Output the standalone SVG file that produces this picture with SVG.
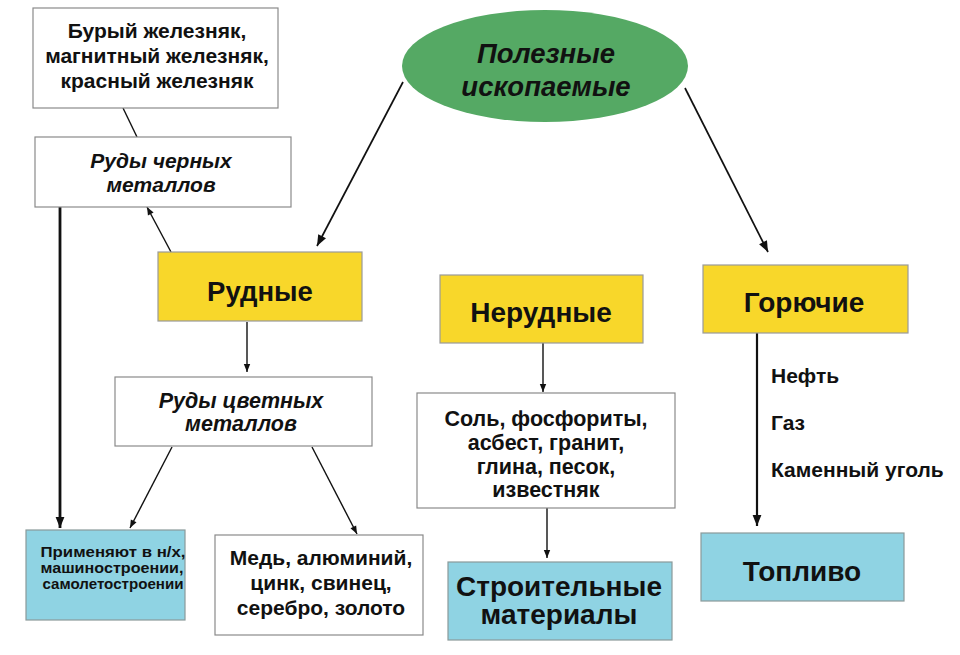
<svg xmlns="http://www.w3.org/2000/svg" width="960" height="655" viewBox="0 0 960 655">
<defs>
<marker id="ah" viewBox="0 0 10 10" refX="10" refY="5" markerWidth="9" markerHeight="8" markerUnits="userSpaceOnUse" orient="auto">
<path d="M0,1 L10,5 L0,9 z" fill="#111"/>
</marker>
<marker id="ahb" viewBox="0 0 10 10" refX="10" refY="5" markerWidth="15" markerHeight="11" markerUnits="userSpaceOnUse" orient="auto">
<path d="M0,1 L10,5 L0,9 z" fill="#111"/>
</marker>
</defs>
<style>
.box{fill:#fff;stroke:#8a8a8a;stroke-width:1.2}
.yel{fill:#f8d72a;stroke:#9a9a9a;stroke-width:1.2}
.blu{fill:#8fd3e3;stroke:#8a9a9a;stroke-width:1.2}
text{font-family:"Liberation Sans",Arial,sans-serif;font-weight:bold;fill:#111;text-anchor:middle}
.it{font-style:italic}
.c{stroke:#111;stroke-width:1.4;fill:none}
</style>
<rect width="960" height="655" fill="#fff"/>
<g id="connectors">
<line class="c" x1="137" y1="137" x2="123" y2="108"/>
<line class="c" x1="171" y1="252" x2="147" y2="207" marker-end="url(#ah)"/>
<line class="c" x1="60" y1="207" x2="60" y2="528" style="stroke-width:2.8" marker-end="url(#ahb)"/>
<line class="c" x1="403" y1="82" x2="317" y2="246" style="stroke-width:1.7" marker-end="url(#ahb)"/>
<line class="c" x1="685" y1="88" x2="768" y2="252" style="stroke-width:1.7" marker-end="url(#ahb)"/>
<line class="c" x1="247" y1="322" x2="247" y2="372" marker-end="url(#ah)"/>
<line class="c" x1="172" y1="447" x2="130" y2="528" marker-end="url(#ah)"/>
<line class="c" x1="312" y1="447" x2="357" y2="534" marker-end="url(#ah)"/>
<line class="c" x1="543" y1="343" x2="543" y2="392" marker-end="url(#ah)"/>
<line class="c" x1="547" y1="508" x2="547" y2="558" marker-end="url(#ah)"/>
<line class="c" x1="757" y1="333" x2="757" y2="526" style="stroke-width:2.2" marker-end="url(#ahb)"/>
</g>
<g id="n-root">
<ellipse cx="545" cy="66" rx="143" ry="56" fill="#55a964"/>
<text class="it" x="546" y="63" font-size="27.5">Полезные</text>
<text class="it" x="546" y="96" font-size="27.5">ископаемые</text>
</g>
<g id="n-buryi">
<rect class="box" x="33" y="8" width="245" height="100"/>
<text x="157" y="38" font-size="21">Бурый железняк,</text>
<text x="157" y="63" font-size="21">магнитный железняк,</text>
<text x="157" y="88" font-size="21">красный железняк</text>
</g>
<g id="n-chernye">
<rect class="box" x="35" y="137" width="256" height="70"/>
<text class="it" x="161" y="168" font-size="21">Руды черных</text>
<text class="it" x="161" y="192" font-size="21">металлов</text>
</g>
<g id="n-rudnye">
<rect class="yel" x="158" y="252" width="204" height="69"/>
<text x="260" y="301" font-size="27.5">Рудные</text>
</g>
<g id="n-tsvetnye">
<rect class="box" x="115" y="377" width="257" height="69"/>
<text class="it" x="241" y="408" font-size="21.5">Руды цветных</text>
<text class="it" x="241" y="431" font-size="21.5">металлов</text>
</g>
<g id="n-primenyayut">
<rect class="blu" x="26" y="530" width="159" height="90"/>
<text x="113" y="557" font-size="14.5" textLength="145" lengthAdjust="spacingAndGlyphs">Применяют в н/х,</text>
<text x="112" y="573" font-size="14.5" textLength="143" lengthAdjust="spacingAndGlyphs">машиностроении,</text>
<text x="113" y="589" font-size="14.5" textLength="141" lengthAdjust="spacingAndGlyphs">самолетостроении</text>
</g>
<g id="n-med">
<rect class="box" x="215" y="535" width="208" height="100"/>
<text x="321" y="565" font-size="21">Медь, алюминий,</text>
<text x="321" y="590" font-size="21">цинк, свинец,</text>
<text x="321" y="615" font-size="21">серебро, золото</text>
</g>
<g id="n-nerudnye">
<rect class="yel" x="440" y="275" width="203" height="68"/>
<text x="541" y="322" font-size="28">Нерудные</text>
</g>
<g id="n-sol">
<rect class="box" x="417" y="393" width="258" height="115"/>
<text x="546" y="426" font-size="21.5">Соль, фосфориты,</text>
<text x="546" y="450" font-size="21.5">асбест, гранит,</text>
<text x="546" y="474" font-size="21.5">глина, песок,</text>
<text x="546" y="497" font-size="21.5">известняк</text>
</g>
<g id="n-stroit">
<rect class="blu" x="448" y="562" width="224" height="78"/>
<text x="559" y="596" font-size="28">Строительные</text>
<text x="559" y="624" font-size="28">материалы</text>
</g>
<g id="n-goryuchie">
<rect class="yel" x="703" y="265" width="205" height="68"/>
<text x="804" y="312" font-size="28">Горючие</text>
</g>
<g id="n-labels">
<text x="771" y="383" font-size="21" style="text-anchor:start">Нефть</text>
<text x="771" y="430" font-size="21" style="text-anchor:start">Газ</text>
<text x="771" y="477" font-size="21" style="text-anchor:start">Каменный уголь</text>
</g>
<g id="n-toplivo">
<rect class="blu" x="701" y="533" width="203" height="68"/>
<text x="802" y="581" font-size="28">Топливо</text>
</g>
</svg>
